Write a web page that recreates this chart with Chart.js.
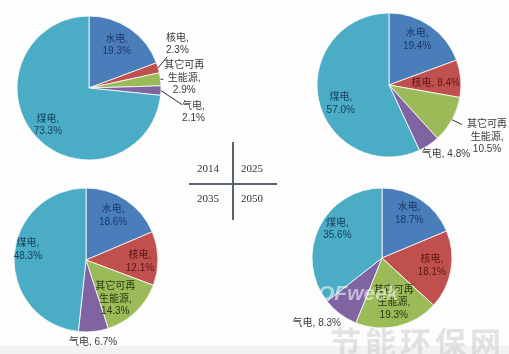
<!DOCTYPE html>
<html>
<head>
<meta charset="utf-8">
<script src="https://cdn.jsdelivr.net/npm/chart.js@4/dist/chart.umd.min.js"></script>
<style>
  body { margin: 0; background: #fff; }
  #wrap { position: relative; width: 509px; height: 354px; overflow: hidden; background: #fdfdfd; }
  #wrap canvas { position: absolute; left: 0; top: 0; }
  .ln { position: absolute; background: #5a6470; }
  .yr { position: absolute; font: 11px "Liberation Serif", "DejaVu Serif", serif; color: #333; width: 40px; text-align: center; }
  .wm1 { position: absolute; left: 318px; top: 281px; font: italic bold 21px "Liberation Sans", sans-serif; color: rgba(255,255,255,0.55); }
  .wm2 { position: absolute; left: 330px; top: 318px; font: bold 31px "Noto Sans CJK SC", sans-serif; color: rgba(200,200,200,0.5); letter-spacing: 4px; }
  .band { position: absolute; left: 0; top: 346px; width: 509px; height: 8px; background: #f2f2f2; }
</style>
</head>
<body>
<div id="wrap">
  <canvas id="c2014" width="509" height="354"></canvas>
  <canvas id="c2025" width="509" height="354"></canvas>
  <canvas id="c2035" width="509" height="354"></canvas>
  <canvas id="c2050" width="509" height="354"></canvas>
  <div class="ln" style="left:232px;top:142px;width:1.5px;height:78px"></div>
  <div class="ln" style="left:189px;top:183px;width:88px;height:1.5px"></div>
  <div class="yr" style="left:188px;top:162px">2014</div>
  <div class="yr" style="left:232px;top:162px">2025</div>
  <div class="yr" style="left:188px;top:192px">2035</div>
  <div class="yr" style="left:232px;top:192px">2050</div>
  <div class="band"></div>
  <div class="wm1">OFweek</div>
  <div class="wm2">节能环保网</div>
</div>
<script>
// data
const sources = ['水电', '核电', '其它可再生能源', '气电', '煤电'];
const share2014 = [19.3, 2.3, 2.9, 2.1, 73.3];
const share2025 = [19.4, 8.4, 10.5, 4.8, 57.0];
const share2035 = [18.6, 12.1, 14.3, 6.7, 48.3];
const share2050 = [18.7, 18.1, 19.3, 8.3, 35.6];

const colors = ['#4a7ebb', '#c0504d', '#9bbb59', '#8064a2', '#4bacc6'];
const insideText = ['#1c3766', '#5a1513', '#2b3812', '#2e2346', '#173d58'];

// label placement per slice: [radius factor, angle shift (deg), leader pull-back (0 = none), inline]
const pies = [
  { id: 'c2014', data: share2014, cx: 89, cy: 88, r: 72,
    place: [[0.71, -2, 0], [1.37, -10, 16], [1.33, 1, 21], [1.49, 11, 14], [0.77, 0, 0]] },
  { id: 'c2025', data: share2025, cx: 389, cy: 85, r: 72,
    place: [[0.74, -3, 0], [0.65, 3, 0, 1], [1.54, -1, 28], [1.24, -6, 0, 1], [0.72, -9, 0]] },
  { id: 'c2035', data: share2035, cx: 86, cy: 260, r: 72,
    place: [[0.72, -2, 0], [0.75, 3, 0], [0.68, 7, 0], [1.14, 1, 0, 1], [0.82, 7, 0]] },
  { id: 'c2050', data: share2050, cx: 382, cy: 258, r: 70,
    place: [[0.74, -2, 0], [0.72, -1, 0], [0.66, -2, 0], [1.32, 8, 0, 1], [0.76, 7, 0]] }
];

function labelLines(name, v, inline) {
  const pct = v.toFixed(1) + '%';
  if (inline) return [name + ', ' + pct];
  if (name.length > 4) return [name.slice(0, 4), name.slice(4) + ',', pct];
  return [name + ',', pct];
}

const sliceLabels = {
  id: 'sliceLabels',
  afterDatasetsDraw(chart, args, opts) {
    const ctx = chart.ctx;
    const arcs = chart.getDatasetMeta(0).data;
    const vals = chart.data.datasets[0].data;
    ctx.save();
    ctx.font = '10px "Liberation Sans", "Noto Sans CJK SC", sans-serif';
    ctx.textAlign = 'center';
    ctx.textBaseline = 'middle';
    arcs.forEach((arc, i) => {
      const p = opts.place[i];
      const mid = (arc.startAngle + arc.endAngle) / 2;
      const a = mid + p[1] * Math.PI / 180;
      const R = arc.outerRadius;
      const lx = arc.x + Math.cos(a) * R * p[0];
      const ly = arc.y + Math.sin(a) * R * p[0];
      if (p[2] > 0) {
        const x0 = arc.x + Math.cos(mid) * R, y0 = arc.y + Math.sin(mid) * R;
        const dx = lx - x0, dy = ly - y0, d = Math.hypot(dx, dy);
        ctx.strokeStyle = '#2a2a2a';
        ctx.lineWidth = 1;
        ctx.beginPath();
        ctx.moveTo(x0, y0);
        ctx.lineTo(lx - dx / d * p[2], ly - dy / d * p[2]);
        ctx.stroke();
      }
      const lines = labelLines(chart.data.labels[i], vals[i], p[3]);
      ctx.fillStyle = p[0] > 1 ? '#3a3a3a' : insideText[i];
      const lh = 12.5;
      lines.forEach((t, k) => {
        ctx.fillText(t, lx, ly + (k - (lines.length - 1) / 2) * lh);
      });
    });
    ctx.restore();
  }
};

pies.forEach(pc => {
  const W = 509, H = 354;
  const pad = {
    left: pc.cx * 2 > W ? pc.cx * 2 - W : 0,
    right: pc.cx * 2 > W ? 0 : W - pc.cx * 2,
    top: pc.cy * 2 > H ? pc.cy * 2 - H : 0,
    bottom: pc.cy * 2 > H ? 0 : H - pc.cy * 2
  };
  new Chart(document.getElementById(pc.id), {
    type: 'pie',
    data: {
      labels: sources,
      datasets: [{
        data: pc.data,
        backgroundColor: colors,
        borderColor: '#ffffff',
        borderWidth: 0.8,
        radius: pc.r
      }]
    },
    options: {
      responsive: false,
      animation: false,
      layout: { padding: pad },
      plugins: {
        legend: { display: false },
        tooltip: { enabled: false },
        sliceLabels: { place: pc.place }
      }
    },
    plugins: [sliceLabels]
  });
});
</script>
</body>
</html>
